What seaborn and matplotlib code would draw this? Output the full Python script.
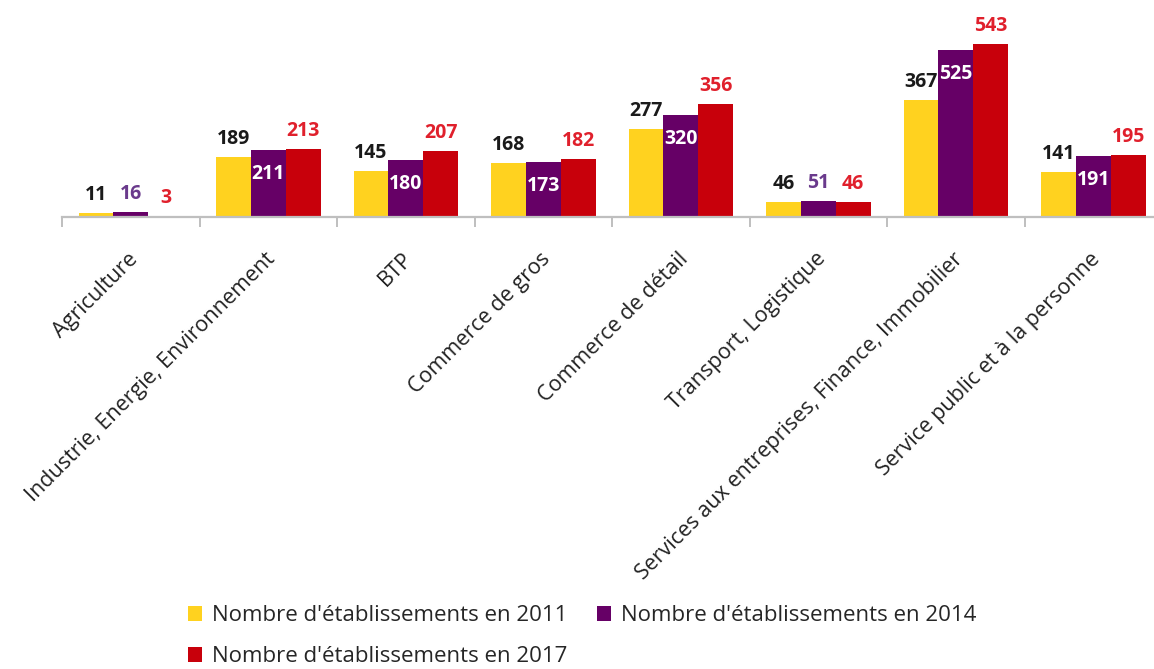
import numpy as np
import pandas as pd
import seaborn as sns
import matplotlib.pyplot as plt
from matplotlib.transforms import ScaledTranslation

# Data
secteurs = [
    "Agriculture",
    "Industrie, Energie, Environnement",
    "BTP",
    "Commerce de gros",
    "Commerce de détail",
    "Transport, Logistique",
    "Services aux entreprises, Finance, Immobilier",
    "Service public et à la personne",
]
annees = ["2011", "2014", "2017"]
n_2011 = [11, 189, 145, 168, 277, 46, 367, 141]
n_2014 = [16, 211, 180, 173, 320, 51, 525, 191]
n_2017 = [3, 213, 207, 182, 356, 46, 543, 195]
legendes = [
    "Nombre d'établissements en 2011",
    "Nombre d'établissements en 2014",
    "Nombre d'établissements en 2017",
]

couleurs = ["#FFD21F", "#660066", "#C8000B"]
couleurs_texte = ["#1A1A1A", "#6A3A8C", "#E0202C"]

df = pd.DataFrame({
    "Secteur": secteurs * 3,
    "Année": [a for a in annees for _ in secteurs],
    "Nombre": n_2011 + n_2014 + n_2017,
})

sns.set_theme(style="white")
plt.rcParams["font.family"] = ["Open Sans", "DejaVu Sans"]

fig = plt.figure(figsize=(11.54, 6.69), dpi=100)
W, H = 1154, 669
ax = fig.add_axes([62 / W, (H - 217) / H, 1100 / W, (217 - 20) / H])

sns.barplot(data=df, x="Secteur", y="Nombre", hue="Année", palette=couleurs,
            width=0.76, saturation=1, linewidth=0, ax=ax)
handles, _ = ax.get_legend_handles_labels()
ax.get_legend().remove()

ax.set_ylim(0, 618)
ax.set_xlim(-0.5, 7.5)

# value labels
series = [n_2011, n_2014, n_2017]
for i, container in enumerate(ax.containers):
    for bar, val in zip(container, series[i]):
        x = bar.get_x() + bar.get_width() / 2
        h = bar.get_height()
        if i == 1 and val > 100:
            ax.annotate(str(val), (x, h), xytext=(0, -29), textcoords="offset pixels",
                        ha="center", va="baseline", color="white",
                        fontsize=14, fontweight="bold")
        else:
            ax.annotate(str(val), (x, h), xytext=(0, 13), textcoords="offset pixels",
                        ha="center", va="baseline", color=couleurs_texte[i],
                        fontsize=14, fontweight="bold")

# axes styling
for s in ["top", "left", "right"]:
    ax.spines[s].set_visible(False)
ax.spines["bottom"].set_color("#BFBFBF")
ax.spines["bottom"].set_linewidth(1.6)
ax.set_yticks([])
ax.set_xlabel("")
ax.set_ylabel("")

ax.set_xticks(range(len(secteurs)))
ax.set_xticklabels(secteurs, rotation=45, ha="right", va="center",
                   rotation_mode="anchor", fontsize=15.5, color="#222222")
ax.set_xticks(np.arange(-0.5, len(secteurs), 1), minor=True)
ax.tick_params(axis="x", which="major", length=0, pad=28)
ax.tick_params(axis="x", which="minor", length=7, width=1.4, color="#BFBFBF", bottom=True)
for lab in ax.get_xticklabels():
    lab.set_transform(lab.get_transform() + ScaledTranslation(4 / 100, 0, fig.dpi_scale_trans))

# legend, row-first order
fig.legend(handles=[handles[0], handles[2], handles[1]],
           labels=[legendes[0], legendes[2], legendes[1]],
           loc="upper left", bbox_to_anchor=(188 / W, 1 - 605 / H), ncol=2,
           frameon=False, fontsize=16, handlelength=0.65, handleheight=0.65,
           handletextpad=0.45, columnspacing=1.3, labelspacing=0.9,
           borderpad=0, borderaxespad=0)

fig.savefig("out.png", dpi=100)
